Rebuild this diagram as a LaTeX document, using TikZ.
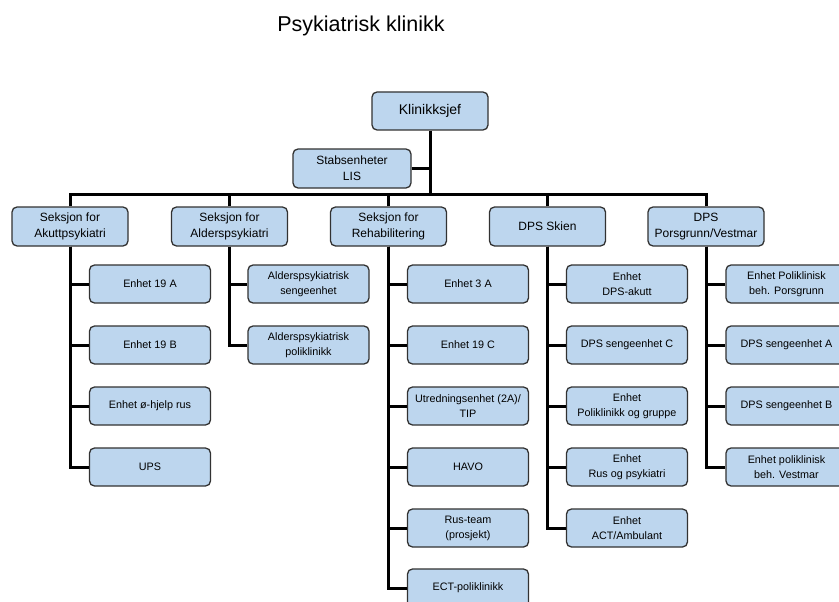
\documentclass[tikz,border=0pt]{standalone}
\usepackage{fontspec}
\setmainfont{Liberation Sans}
\definecolor{boxfill}{RGB}{189,214,238}
\definecolor{boxline}{RGB}{50,50,50}
\begin{document}
\begin{tikzpicture}[x=1pt,y=-1pt,
  unit/.style={draw=boxline, line width=1.3pt, fill=boxfill, rounded corners=5pt,
    align=center, inner sep=1pt},
  chief/.style={unit, minimum width=116pt, minimum height=38pt, font=\fontsize{14}{17}\selectfont},
  section/.style={unit, minimum width=116pt, minimum height=39pt, font=\fontsize{12}{16}\selectfont},
  sub/.style={unit, minimum width=121pt, minimum height=38pt, font=\fontsize{10.8}{15}\selectfont},
  conn/.style={line width=3pt, black, line join=miter}]
\useasboundingbox (0,0) rectangle (839,602);
\clip (0,0) rectangle (839,602);
\fill[white] (0,0) rectangle (839,602);

% title
\node[font=\fontsize{21.5}{24}\selectfont] (title) at (361,26) {Psykiatrisk klinikk};

% top of the tree
\node[chief] (klin) at (430,111) {Klinikksjef};
\node[section, minimum width=118pt] (stab) at (352,168.5) {Stabsenheter\\LIS};
\coordinate (bar) at (430,194);

% sections
\node[section] (akutt) at (70,226.5) {Seksjon for\\Akuttpsykiatri};
\node[section] (alder) at (229.5,226.5) {Seksjon for\\Alderspsykiatri};
\node[section] (rehab) at (388.5,226.5) {Seksjon for\\Rehabilitering};
\node[section] (skien) at (547.5,226.5) {DPS Skien};
\node[section] (pors) at (706,226.5) {DPS\\Porsgrunn/Vestmar};

% units: Akuttpsykiatri
\node[sub] (a1) at (150,284) {Enhet 19 A};
\node[sub] (a2) at (150,345) {Enhet 19 B};
\node[sub] (a3) at (150,406) {Enhet ø-hjelp rus};
\node[sub] (a4) at (150,467) {UPS};

% units: Alderspsykiatri
\node[sub] (b1) at (308.5,284) {Alderspsykiatrisk\\sengeenhet};
\node[sub] (b2) at (308.5,345) {Alderspsykiatrisk\\poliklinikk};

% units: Rehabilitering
\node[sub] (c1) at (468,284) {Enhet 3 A};
\node[sub] (c2) at (468,345) {Enhet 19 C};
\node[sub] (c3) at (468,406) {Utredningsenhet (2A)/\\TIP};
\node[sub] (c4) at (468,467) {HAVO};
\node[sub] (c5) at (468,528) {Rus-team\\(prosjekt)};
\node[sub] (c6) at (468,588) {ECT-poliklinikk};

% units: DPS Skien
\node[sub] (d1) at (627,284) {Enhet\\DPS-akutt};
\node[sub] (d2) at (627,345) {DPS sengeenhet C};
\node[sub] (d3) at (627,406) {Enhet\\Poliklinikk og gruppe};
\node[sub] (d4) at (627,467) {Enhet\\Rus og psykiatri};
\node[sub] (d5) at (627,528) {Enhet\\ACT/Ambulant};

% units: DPS Porsgrunn/Vestmar
\node[sub] (e1) at (786.5,284) {Enhet Poliklinisk\\beh. Porsgrunn};
\node[sub] (e2) at (786.5,345) {DPS sengeenhet A};
\node[sub] (e3) at (786.5,406) {DPS sengeenhet B};
\node[sub] (e4) at (786.5,467) {Enhet poliklinisk\\beh. Vestmar};

% connectors
\draw[conn] (klin.south) -- (bar);
\draw[conn] (stab.east) -- (stab.east -| klin.south);
\foreach \s in {akutt,alder,rehab,skien,pors}
  \draw[conn] (\s.north) |- (bar);
\foreach \c in {a1,a2,a3,a4} \draw[conn] (akutt.south) |- (\c.west);
\foreach \c in {b1,b2} \draw[conn] (alder.south) |- (\c.west);
\foreach \c in {c1,c2,c3,c4,c5,c6} \draw[conn] (rehab.south) |- (\c.west);
\foreach \c in {d1,d2,d3,d4,d5} \draw[conn] (skien.south) |- (\c.west);
\foreach \c in {e1,e2,e3,e4} \draw[conn] (pors.south) |- (\c.west);
\end{tikzpicture}
\end{document}
